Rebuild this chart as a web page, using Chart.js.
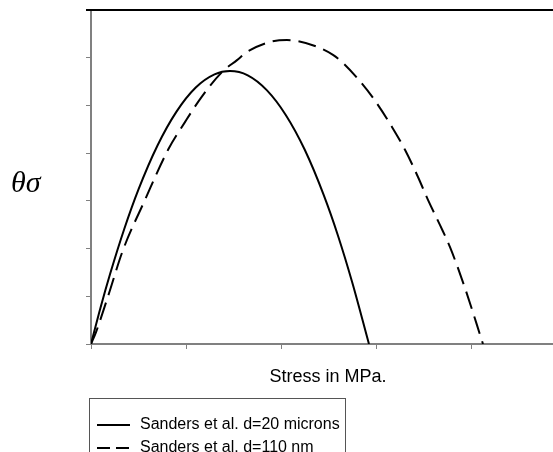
<!DOCTYPE html>
<html>
<head>
<meta charset="utf-8">
<script src="https://cdn.jsdelivr.net/npm/chart.js@4.4.0/dist/chart.umd.min.js"></script>
<style>
  html, body { margin: 0; padding: 0; background: #fff; }
  #wrap { width: 553px; height: 452px; position: relative; }
</style>
</head>
<body>
<div id="wrap"><canvas id="grafico"></canvas></div>
<script>
// dados (tensão em MPa, θσ em unidades arbitrárias)
const microStress = [0, 10, 20, 35, 50, 70, 90, 110, 130, 146.3, 165, 185, 205, 225, 245, 260, 275, 292.6];
const microTheta  = [0, 0.76, 1.46, 2.41, 3.24, 4.16, 4.87, 5.37, 5.65, 5.72, 5.63, 5.32, 4.80, 4.07, 3.12, 2.27, 1.29, 0];

const nanoStress = [0, 5.3, 17.6, 33.7, 56.8, 81.1, 98.9, 116.5, 137.9, 153.7, 164.2, 188.4, 206.3, 216.8, 237.9, 254.7, 265.3, 280, 296.8, 316.8, 330.5, 344.2, 354.7, 367.4, 377.9, 393.7, 412.6];
const nanoTheta  = [0, 0.25, 0.98, 1.97, 3.02, 4.07, 4.65, 5.18, 5.70, 5.95, 6.12, 6.33, 6.37, 6.35, 6.23, 6.06, 5.89, 5.58, 5.16, 4.55, 4.07, 3.50, 3.02, 2.49, 2.03, 1.17, 0];

const seriesLabels = ['Sanders et al. d=20 microns', 'Sanders et al. d=110 nm'];
const xTitle = 'Stress in MPa.';
const yTitle = 'θσ';

function pares(xs, ys) {
    return xs.map((x, i) => ({ x: x, y: ys[i] }));
}

// desenha moldura de cima, títulos dos eixos e a legenda
const extras = {
    id: 'extras',
    afterDraw(chart) {
        const ctx = chart.ctx;
        const area = chart.chartArea;
        ctx.save();

        // linha preta no topo
        ctx.strokeStyle = '#000';
        ctx.lineWidth = 2;
        ctx.beginPath();
        ctx.moveTo(area.left - 5, area.top);
        ctx.lineTo(area.right, area.top);
        ctx.stroke();

        ctx.fillStyle = '#000';
        ctx.font = 'italic 30px "Liberation Serif", serif';
        ctx.textAlign = 'left';
        ctx.textBaseline = 'alphabetic';
        ctx.fillText(yTitle, 11, 192);

        ctx.font = '18px "Liberation Sans", Arial, sans-serif';
        ctx.textAlign = 'center';
        ctx.fillText(xTitle, (area.left + area.right) / 2 + 6, 382);

        // legenda
        ctx.strokeStyle = '#555';
        ctx.lineWidth = 1;
        ctx.strokeRect(89.5, 398.5, 256, 70);

        ctx.font = '16px "Liberation Sans", Arial, sans-serif';
        ctx.textAlign = 'left';
        ctx.textBaseline = 'middle';
        chart.data.datasets.forEach((ds, i) => {
            const y = 425 + i * 23;
            ctx.strokeStyle = '#000';
            ctx.lineWidth = 2;
            ctx.setLineDash(ds.borderDash ? [13, 6] : []);
            ctx.beginPath();
            ctx.moveTo(97, y);
            ctx.lineTo(130, y);
            ctx.stroke();
            ctx.setLineDash([]);
            ctx.fillText(ds.label, 140, y);
        });
        ctx.restore();
    }
};

new Chart(document.getElementById('grafico').getContext('2d'), {
    type: 'line',
    data: {
        datasets: [
            {
                label: seriesLabels[0],
                data: pares(microStress, microTheta),
                borderColor: '#000',
                borderWidth: 2,
                pointRadius: 0,
                fill: false,
                cubicInterpolationMode: 'monotone'
            },
            {
                label: seriesLabels[1],
                data: pares(nanoStress, nanoTheta),
                borderColor: '#000',
                borderWidth: 2,
                borderDash: [18, 8],
                pointRadius: 0,
                fill: false,
                cubicInterpolationMode: 'monotone'
            }
        ]
    },
    options: {
        responsive: true,
        maintainAspectRatio: false,
        animation: false,
        layout: { padding: { top: 10, right: 0, left: 0, bottom: 0 } },
        plugins: {
            legend: { display: false },
            tooltip: { enabled: false }
        },
        scales: {
            x: {
                type: 'linear',
                min: 0,
                max: 486.3,
                ticks: { display: false, stepSize: 100 },
                afterBuildTicks(scale) {
                    scale.ticks = scale.ticks.filter(t => t.value % 100 === 0);
                },
                grid: { drawOnChartArea: false, drawTicks: true, tickLength: 5, color: '#808080', lineWidth: 1 },
                border: { color: '#808080', width: 2 },
                afterFit(scale) { scale.height = 108; }
            },
            y: {
                min: 0,
                max: 7,
                ticks: { display: false, stepSize: 1 },
                grid: { drawOnChartArea: false, drawTicks: true, tickLength: 5, color: '#808080', lineWidth: 1 },
                border: { color: '#808080', width: 2 },
                afterFit(scale) { scale.width = 91; }
            }
        }
    },
    plugins: [extras]
});
</script>
</body>
</html>
